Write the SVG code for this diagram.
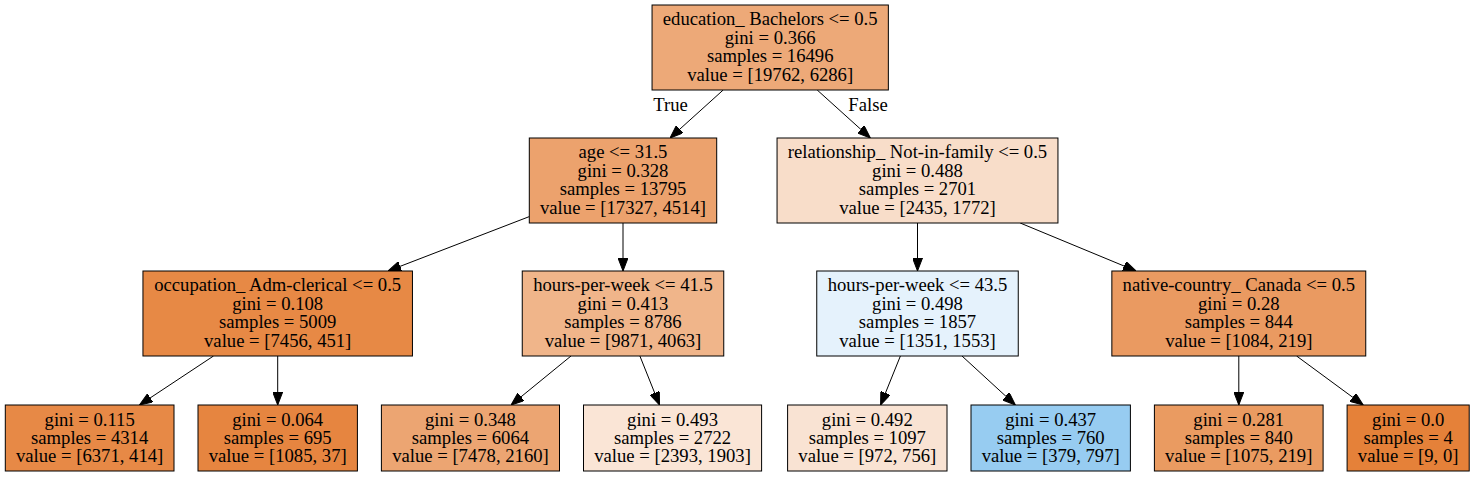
<svg xmlns="http://www.w3.org/2000/svg" width="1475" height="477" viewBox="0 0 1475 477">
<style>
  .bg{fill:#ffffff}
  .box{stroke:#000000;stroke-width:1}
  text{font-family:"Liberation Serif","Times New Roman",serif;font-size:18.67px;fill:#000000;text-anchor:middle}
  .edge{stroke:#000000;stroke-width:1;fill:none;marker-end:url(#arrow)}
</style>
<defs>
  <marker id="arrow" markerUnits="userSpaceOnUse" markerWidth="13" markerHeight="10" viewBox="0 0 13 10" refX="13" refY="5" orient="auto">
    <path d="M0,0 L13,5 L0,10 z" fill="#000000" stroke="#000000" stroke-width="1"/>
  </marker>
</defs>
<rect class="bg" x="0" y="0" width="1475" height="477"/>

<g id="connectors">
  <line class="edge" x1="723.2" y1="90" x2="670" y2="138"/>
  <line class="edge" x1="817.2" y1="90" x2="870.4" y2="138"/>
  <line class="edge" x1="529.3" y1="216.6" x2="388" y2="271"/>
  <line class="edge" x1="623" y1="223" x2="623" y2="271"/>
  <line class="edge" x1="917.5" y1="223" x2="917.5" y2="271"/>
  <line class="edge" x1="1020.2" y1="223" x2="1136.1" y2="271"/>
  <line class="edge" x1="213.5" y1="356" x2="139.5" y2="405"/>
  <line class="edge" x1="277.7" y1="356" x2="277.7" y2="405"/>
  <line class="edge" x1="571" y1="356" x2="511" y2="405"/>
  <line class="edge" x1="639.9" y1="356" x2="659.5" y2="405"/>
  <line class="edge" x1="900.4" y1="356" x2="880.6" y2="405"/>
  <line class="edge" x1="962" y1="356" x2="1015.4" y2="405"/>
  <line class="edge" x1="1238.8" y1="356" x2="1238.8" y2="405"/>
  <line class="edge" x1="1296.6" y1="356" x2="1363.2" y2="405"/>
  <text x="670.5" y="111">True</text>
  <text x="868" y="111">False</text>
</g>

<g id="node0">
  <rect class="box" x="652.05" y="5" width="236.3" height="85" fill="#eda978"/>
  <text x="770.2" y="25.4">education_ Bachelors &lt;= 0.5</text>
  <text x="770.2" y="43.8">gini = 0.366</text>
  <text x="770.2" y="62.2">samples = 16496</text>
  <text x="770.2" y="80.6">value = [19762, 6286]</text>
</g>
<g id="node1">
  <rect class="box" x="529.3" y="138" width="187.4" height="85" fill="#eca26d"/>
  <text x="623" y="158.4">age &lt;= 31.5</text>
  <text x="623" y="176.8">gini = 0.328</text>
  <text x="623" y="195.2">samples = 13795</text>
  <text x="623" y="213.6">value = [17327, 4514]</text>
</g>
<g id="node2">
  <rect class="box" x="777.05" y="138" width="280.9" height="85" fill="#f8ddc9"/>
  <text x="917.5" y="158.4">relationship_ Not-in-family &lt;= 0.5</text>
  <text x="917.5" y="176.8">gini = 0.488</text>
  <text x="917.5" y="195.2">samples = 2701</text>
  <text x="917.5" y="213.6">value = [2435, 1772]</text>
</g>
<g id="node3">
  <rect class="box" x="142.95" y="271" width="269.5" height="85" fill="#e78945"/>
  <text x="277.7" y="291.4">occupation_ Adm-clerical &lt;= 0.5</text>
  <text x="277.7" y="309.8">gini = 0.108</text>
  <text x="277.7" y="328.2">samples = 5009</text>
  <text x="277.7" y="346.6">value = [7456, 451]</text>
</g>
<g id="node4">
  <rect class="box" x="522.25" y="271" width="201.5" height="85" fill="#f0b58a"/>
  <text x="623" y="291.4">hours-per-week &lt;= 41.5</text>
  <text x="623" y="309.8">gini = 0.413</text>
  <text x="623" y="328.2">samples = 8786</text>
  <text x="623" y="346.6">value = [9871, 4063]</text>
</g>
<g id="node5">
  <rect class="box" x="816.75" y="271" width="201.5" height="85" fill="#e5f2fc"/>
  <text x="917.5" y="291.4">hours-per-week &lt;= 43.5</text>
  <text x="917.5" y="309.8">gini = 0.498</text>
  <text x="917.5" y="328.2">samples = 1857</text>
  <text x="917.5" y="346.6">value = [1351, 1553]</text>
</g>
<g id="node6">
  <rect class="box" x="1111.85" y="271" width="253.9" height="85" fill="#ea9a61"/>
  <text x="1238.8" y="291.4">native-country_ Canada &lt;= 0.5</text>
  <text x="1238.8" y="309.8">gini = 0.28</text>
  <text x="1238.8" y="328.2">samples = 844</text>
  <text x="1238.8" y="346.6">value = [1084, 219]</text>
</g>
<g id="node7">
  <rect class="box" x="5.3" y="405" width="168.7" height="66" fill="#e78946"/>
  <text x="89.65" y="425.6">gini = 0.115</text>
  <text x="89.65" y="443.8">samples = 4314</text>
  <text x="89.65" y="462">value = [6371, 414]</text>
</g>
<g id="node8">
  <rect class="box" x="198" y="405" width="159.4" height="66" fill="#e68540"/>
  <text x="277.7" y="425.6">gini = 0.064</text>
  <text x="277.7" y="443.8">samples = 695</text>
  <text x="277.7" y="462">value = [1085, 37]</text>
</g>
<g id="node9">
  <rect class="box" x="381.4" y="405" width="178.1" height="66" fill="#eca572"/>
  <text x="470.45" y="425.6">gini = 0.348</text>
  <text x="470.45" y="443.8">samples = 6064</text>
  <text x="470.45" y="462">value = [7478, 2160]</text>
</g>
<g id="node10">
  <rect class="box" x="583.5" y="405" width="178.1" height="66" fill="#fae5d6"/>
  <text x="672.55" y="425.6">gini = 0.493</text>
  <text x="672.55" y="443.8">samples = 2722</text>
  <text x="672.55" y="462">value = [2393, 1903]</text>
</g>
<g id="node11">
  <rect class="box" x="787.6" y="405" width="159.4" height="66" fill="#f9e3d3"/>
  <text x="867.3" y="425.6">gini = 0.492</text>
  <text x="867.3" y="443.8">samples = 1097</text>
  <text x="867.3" y="462">value = [972, 756]</text>
</g>
<g id="node12">
  <rect class="box" x="971" y="405" width="159.4" height="66" fill="#97ccf1"/>
  <text x="1050.7" y="425.6">gini = 0.437</text>
  <text x="1050.7" y="443.8">samples = 760</text>
  <text x="1050.7" y="462">value = [379, 797]</text>
</g>
<g id="node13">
  <rect class="box" x="1154.4" y="405" width="168.7" height="66" fill="#ea9b61"/>
  <text x="1238.75" y="425.6">gini = 0.281</text>
  <text x="1238.75" y="443.8">samples = 840</text>
  <text x="1238.75" y="462">value = [1075, 219]</text>
</g>
<g id="node14">
  <rect class="box" x="1347.1" y="405" width="122.1" height="66" fill="#e58139"/>
  <text x="1408.15" y="425.6">gini = 0.0</text>
  <text x="1408.15" y="443.8">samples = 4</text>
  <text x="1408.15" y="462">value = [9, 0]</text>
</g>
</svg>
